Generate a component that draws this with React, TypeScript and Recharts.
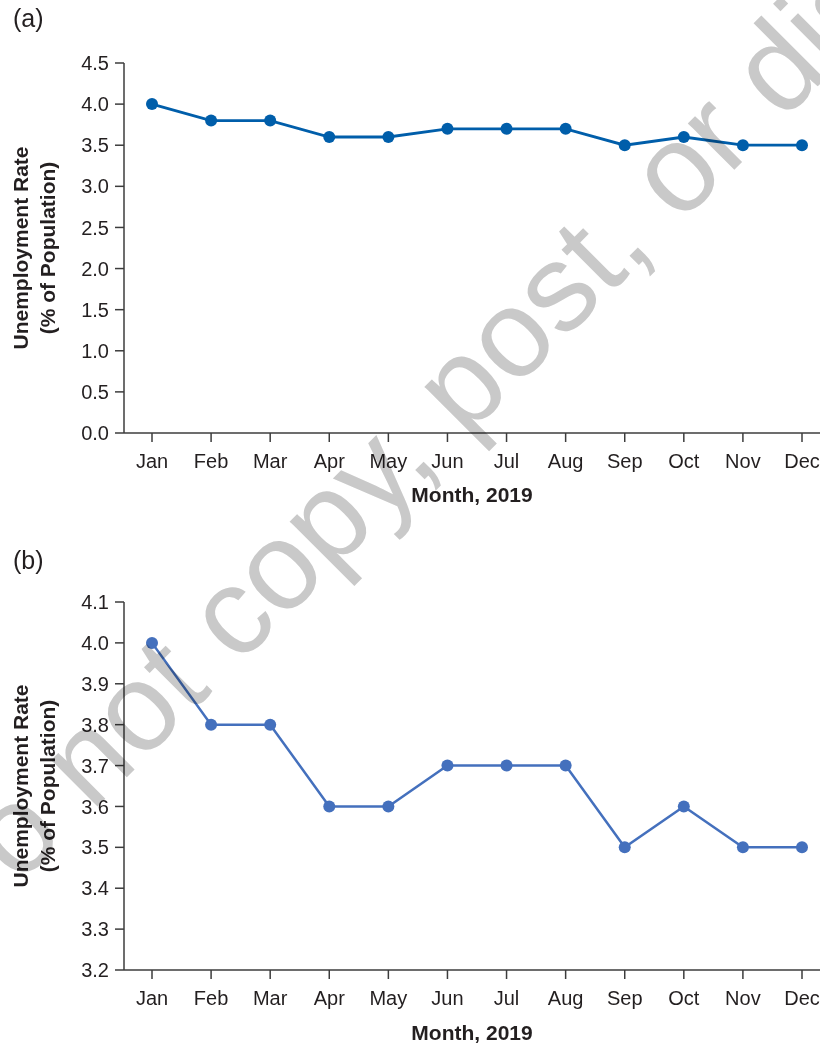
import React from 'react';
import { LineChart, Line, XAxis, YAxis, Label } from 'recharts';

const months = ['Jan', 'Feb', 'Mar', 'Apr', 'May', 'Jun', 'Jul', 'Aug', 'Sep', 'Oct', 'Nov', 'Dec'];
const unemploymentRate = [4.0, 3.8, 3.8, 3.6, 3.6, 3.7, 3.7, 3.7, 3.5, 3.6, 3.5, 3.5];
const ticksFull = [0, 0.5, 1.0, 1.5, 2.0, 2.5, 3.0, 3.5, 4.0, 4.5];
const ticksZoomed = [3.2, 3.3, 3.4, 3.5, 3.6, 3.7, 3.8, 3.9, 4.0, 4.1];

const FONT = '"Liberation Sans", Arial, Helvetica, sans-serif';
const INK = '#231f20';
const AXIS = '#3c3c3c';

const data = months.map((m, i) => ({ month: m, rate: unemploymentRate[i] }));

function YTitle(props: any) {
  const vb = props.viewBox || { y: 0, height: 0 };
  const cy = vb.y + vb.height / 2;
  return (
    <g fontFamily={FONT} fontSize={21} fontWeight="bold" fill={INK} textAnchor="middle">
      <text x={28} y={cy} transform={`rotate(-90 28 ${cy})`}>Unemployment Rate</text>
      <text x={55} y={cy} transform={`rotate(-90 55 ${cy})`}>(% of Population)</text>
    </g>
  );
}

type PanelProps = {
  height: number;
  marginTop: number;
  xAxisHeight: number;
  titleOffset: number;
  domain: [number, number];
  ticks: number[];
  color: string;
  lineWidth: number;
};

function Panel({ height, marginTop, xAxisHeight, titleOffset, domain, ticks, color, lineWidth }: PanelProps) {
  return (
    <LineChart width={820} height={height} data={data} margin={{ top: marginTop, right: 0, left: 0, bottom: 0 }}>
      <XAxis
        dataKey="month"
        interval={0}
        padding={{ left: 28, right: 18 }}
        height={xAxisHeight}
        tickSize={9}
        tickMargin={12}
        axisLine={{ stroke: AXIS, strokeWidth: 1.5 }}
        tickLine={{ stroke: AXIS, strokeWidth: 1.5 }}
        tick={{ fill: INK, fontSize: 20, fontFamily: FONT }}
      >
        <Label
          value="Month, 2019"
          position="insideBottom"
          offset={titleOffset}
          style={{ fill: INK, fontSize: 21, fontWeight: 'bold', fontFamily: FONT }}
        />
      </XAxis>
      <YAxis
        type="number"
        domain={domain}
        ticks={ticks}
        interval={0}
        width={124}
        tickSize={9}
        tickMargin={6}
        tickFormatter={(v: number) => v.toFixed(1)}
        axisLine={{ stroke: AXIS, strokeWidth: 1.5 }}
        tickLine={{ stroke: AXIS, strokeWidth: 1.5 }}
        tick={{ fill: INK, fontSize: 20, fontFamily: FONT }}
      >
        <Label content={<YTitle />} />
      </YAxis>
      <Line
        type="linear"
        dataKey="rate"
        stroke={color}
        strokeWidth={lineWidth}
        dot={{ r: 6, fill: color, stroke: color, strokeWidth: 0 }}
        activeDot={false}
        isAnimationActive={false}
      />
    </LineChart>
  );
}

export default function App() {
  return (
    <div
      style={{
        position: 'absolute',
        top: 0,
        left: 0,
        width: 820,
        height: 1043,
        overflow: 'hidden',
        background: '#fff',
        fontFamily: FONT,
      }}
    >
      <div style={{ position: 'absolute', left: 13, top: 4, fontSize: 25, color: INK }}>(a)</div>
      <div style={{ position: 'absolute', top: 0, left: 0 }}>
        <Panel
          height={520}
          marginTop={63}
          xAxisHeight={87}
          titleOffset={18}
          domain={[0, 4.5]}
          ticks={ticksFull}
          color="#005eaa"
          lineWidth={2.8}
        />
      </div>

      <div style={{ position: 'absolute', left: 13, top: 546, fontSize: 25, color: INK }}>(b)</div>
      <div style={{ position: 'absolute', top: 540, left: 0 }}>
        <Panel
          height={503}
          marginTop={62}
          xAxisHeight={73}
          titleOffset={3}
          domain={[3.2, 4.1]}
          ticks={ticksZoomed}
          color="#4470bd"
          lineWidth={2.5}
        />
      </div>

      {/* watermark across both panels */}
      <svg
        width={820}
        height={1043}
        style={{ position: 'absolute', top: 0, left: 0, pointerEvents: 'none', mixBlendMode: 'multiply' }}
      >
        <text
          x={-45}
          y={949}
          transform="rotate(-45 -45 949)"
          fontFamily={FONT}
          fontSize={124}
          fill="#c9c9c9"
        >
          Do not copy, post, or distribute
        </text>
      </svg>
    </div>
  );
}
